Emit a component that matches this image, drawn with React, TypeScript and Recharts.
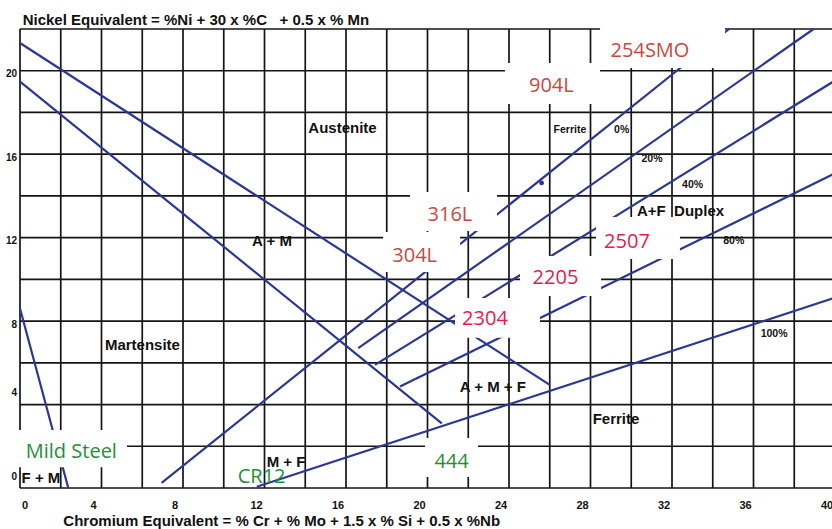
import React from "react";
import {
  ComposedChart,
  Line,
  Scatter,
  XAxis,
  YAxis,
  CartesianGrid,
  ReferenceArea,
  ReferenceDot,
} from "recharts";

// Schaeffler diagram: Cr equivalent (x) vs Ni equivalent (y)
const xTicks = [0, 2, 4, 6, 8, 10, 12, 14, 16, 18, 20, 22, 24, 26, 28, 30, 32, 34, 36, 38, 40];
const yTicks = [0, 2, 4, 6, 8, 10, 12, 14, 16, 18, 20, 22];

// phase boundaries
const austeniteEdge = [{ x: 0, y: 21.33 }, { x: 26.0, y: 4.94 }];
const martensiteEdge = [{ x: 0, y: 19.48 }, { x: 20.7, y: 3.1 }];
const mildSteelEdge = [{ x: 0, y: 8.6 }, { x: 2.37, y: 0 }];
const ferrite0 = [{ x: 6.95, y: 0.25 }, { x: 34.8, y: 22 }];
const ferrite20 = [{ x: 16.6, y: 6.7 }, { x: 38.95, y: 22 }];
const ferrite40 = [{ x: 17.42, y: 5.9 }, { x: 40, y: 19.53 }];
const ferrite80 = [{ x: 18.65, y: 4.86 }, { x: 40, y: 15.08 }];
const ferrite100 = [{ x: 11.62, y: 0.06 }, { x: 40, y: 9.12 }];
const strayDot = [{ x: 25.6, y: 14.62 }];

const boundaryLines = [
  austeniteEdge,
  martensiteEdge,
  mildSteelEdge,
  ferrite0,
  ferrite20,
  ferrite40,
  ferrite80,
  ferrite100,
];

// steel grades placed on the diagram
const grades = [
  { name: "254SMO", group: "austenitic", x: 30.92, y: 21.0, box: [28.47, 34.6, 20.13, 22.15] },
  { name: "904L", group: "austenitic", x: 26.08, y: 19.34, box: [23.8, 28.47, 18.41, 20.37] },
  { name: "316L", group: "austenitic", x: 21.1, y: 13.18, box: [19.14, 23.41, 12.32, 14.19] },
  { name: "304L", group: "austenitic", x: 19.37, y: 11.17, box: [17.82, 21.6, 10.35, 12.27] },
  { name: "2507", group: "duplex", x: 29.79, y: 11.84, box: [28.27, 32.39, 10.98, 12.99] },
  { name: "2205", group: "duplex", x: 26.28, y: 10.14, box: [24.54, 28.52, 9.2, 11.12] },
  { name: "2304", group: "duplex", x: 22.82, y: 8.15, box: [21.35, 25.52, 7.2, 9.11] },
  { name: "Mild Steel", group: "ferritic", x: 2.52, y: 1.82, box: [-0.2, 5.25, 1.0, 2.78] },
  { name: "444", group: "ferritic", x: 21.18, y: 1.34, box: [19.88, 22.48, 0.53, 2.4] },
  { name: "CR12", group: "ferritic", x: 11.86, y: 0.62, box: null },
];

// phase region names
const regions = [
  { name: "Austenite", x: 15.83, y: 17.28 },
  { name: "A + M", x: 12.37, y: 11.84 },
  { name: "Martensite", x: 6.01, y: 6.9 },
  { name: "A + M + F", x: 23.21, y: 4.87 },
  { name: "Ferrite", x: 29.25, y: 3.31 },
  { name: "A+F  Duplex", x: 32.42, y: 13.28 },
  { name: "F + M", x: 1.03, y: 0.48 },
  { name: "M + F", x: 13.06, y: 1.26 },
];

// ferrite percentage notes
const ferriteNotes = [
  { name: "Ferrite", x: 26.99, y: 17.21 },
  { name: "0%", x: 29.53, y: 17.21 },
  { name: "20%", x: 31.02, y: 15.82 },
  { name: "40%", x: 33.01, y: 14.57 },
  { name: "80%", x: 35.03, y: 11.89 },
  { name: "100%", x: 37.01, y: 7.41 },
];

const BLUE = "#2a3794";
const GRID = "#141414";
const ARIAL = "'Liberation Sans', Arial, sans-serif";
const CALIBRI = "'Open Sans', 'Noto Sans', sans-serif";
const groupColor: Record<string, string> = {
  austenitic: "#c9483f",
  duplex: "#e8194f",
  ferritic: "#1f8f3a",
};

const XTick = ({ x, y, payload }: any) => {
  const v = payload.value;
  if (v % 4 !== 0) return null;
  return (
    <text
      x={x + (v === 0 ? 5 : -8)}
      y={y + 21}
      textAnchor="middle"
      fontSize={11}
      fontWeight={700}
      fontFamily={ARIAL}
      fill="#111"
    >
      {v}
    </text>
  );
};

const YTick = ({ x, y, payload }: any) => {
  const v = payload.value;
  if (v % 4 !== 0) return null;
  return (
    <text
      x={x}
      y={y + (v >= 8 ? 3 : -12) + 3.6}
      textAnchor="end"
      fontSize={10}
      fontWeight={700}
      fontFamily={ARIAL}
      fill="#111"
    >
      {v}
    </text>
  );
};

const textShape =
  (label: string, size: number, color: string, family: string, bold: boolean) =>
  (p: any) =>
    (
      <text
        x={p.cx}
        y={p.cy}
        textAnchor="middle"
        dominantBaseline="central"
        fontSize={size}
        fontWeight={bold ? 700 : 400}
        fontFamily={family}
        fill={color}
        style={{ whiteSpace: "pre" }}
      >
        {label}
      </text>
    );

const App = () => {
  return (
    <div
      style={{
        position: "fixed",
        left: 0,
        top: 0,
        width: 832,
        height: 529,
        overflow: "hidden",
        background: "#fff",
      }}
    >
      <ComposedChart
        width={840}
        height={529}
        margin={{ top: 29, right: 5, left: 0, bottom: 0 }}
      >
        <CartesianGrid stroke={GRID} strokeWidth={1.7} />
        <XAxis
          type="number"
          dataKey="x"
          domain={[0, 40]}
          ticks={xTicks}
          interval={0}
          height={41}
          axisLine={false}
          tickLine={false}
          tickSize={0}
          tickMargin={0}
          tick={<XTick />}
        />
        <YAxis
          type="number"
          dataKey="y"
          domain={[0, 22]}
          ticks={yTicks}
          interval={0}
          width={20}
          axisLine={false}
          tickLine={false}
          tickSize={0}
          tickMargin={3}
          tick={<YTick />}
        />
        {boundaryLines.map((pts, i) => (
          <Line
            key={i}
            data={pts}
            dataKey="y"
            type="linear"
            stroke={BLUE}
            strokeWidth={2.2}
            dot={false}
            activeDot={false}
            isAnimationActive={false}
          />
        ))}
        <Scatter
          data={strayDot}
          dataKey="y"
          fill={BLUE}
          isAnimationActive={false}
          shape={(p: any) => <circle cx={p.cx} cy={p.cy} r={2.4} fill={BLUE} />}
        />
        {grades
          .filter((g) => g.box)
          .map((g) => (
            <ReferenceArea
              key={"box-" + g.name}
              x1={g.box![0]}
              x2={g.box![1]}
              y1={g.box![2]}
              y2={g.box![3]}
              fill="#fff"
              fillOpacity={1}
              stroke="none"
              ifOverflow="visible"
              zIndex={450}
            />
          ))}
        {grades.map((g) => (
          <ReferenceDot
            key={"g-" + g.name}
            x={g.x}
            y={g.y}
            r={1}
            zIndex={2000}
            shape={textShape(g.name, 20, groupColor[g.group], CALIBRI, false)}
          />
        ))}
        {regions.map((r) => (
          <ReferenceDot
            key={"r-" + r.name}
            x={r.x}
            y={r.y}
            r={1}
            zIndex={2000}
            shape={textShape(r.name, 15, "#111", ARIAL, true)}
          />
        ))}
        {ferriteNotes.map((n) => (
          <ReferenceDot
            key={"n-" + n.name}
            x={n.x}
            y={n.y}
            r={1}
            zIndex={2000}
            shape={textShape(n.name, 10.5, "#111", ARIAL, true)}
          />
        ))}
      </ComposedChart>
      <svg
        width={832}
        height={529}
        style={{ position: "absolute", left: 0, top: 0, pointerEvents: "none" }}
      >
        <text
          x={22.7}
          y={25}
          fontSize={15}
          fontWeight={700}
          fontFamily={ARIAL}
          fill="#111"
          style={{ whiteSpace: "pre" }}
        >
          Nickel Equivalent = %Ni + 30 x %C   + 0.5 x % Mn
        </text>
        <text
          x={63.3}
          y={526}
          fontSize={15}
          fontWeight={700}
          fontFamily={ARIAL}
          fill="#111"
          style={{ whiteSpace: "pre" }}
        >
          Chromium Equivalent = % Cr + % Mo + 1.5 x % Si + 0.5 x %Nb
        </text>
      </svg>
    </div>
  );
};

export default App;
